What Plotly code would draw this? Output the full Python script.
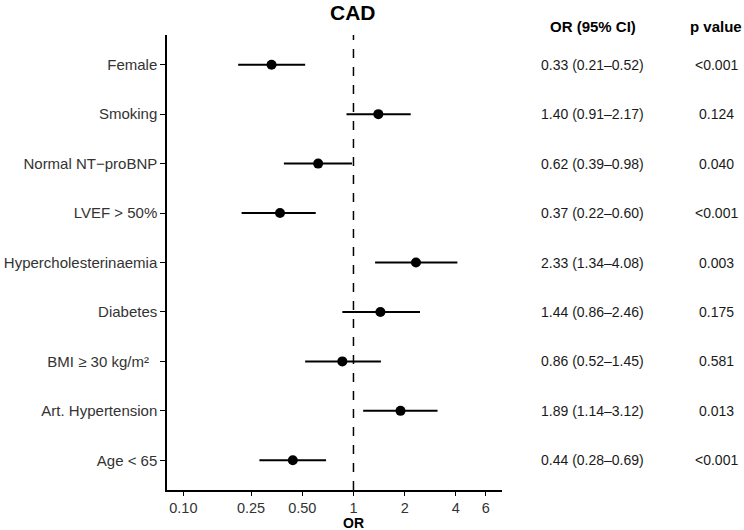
import plotly.graph_objects as go

labels = ["Female", "Smoking", "Normal NT\u2212proBNP", "LVEF > 50%", "Hypercholesterinaemia",
          "Diabetes", "BMI \u2265 30 kg/m\u00b2  ", "Art. Hypertension", "Age < 65"]
or_vals = [0.33, 1.40, 0.62, 0.37, 2.33, 1.44, 0.86, 1.89, 0.44]
ci_low = [0.21, 0.91, 0.39, 0.22, 1.34, 0.86, 0.52, 1.14, 0.28]
ci_high = [0.52, 2.17, 0.98, 0.60, 4.08, 2.46, 1.45, 3.12, 0.69]
p_text = ["<0.001", "0.124", "0.040", "<0.001", "0.003", "0.175", "0.581", "0.013", "<0.001"]
x_ticks = [0.10, 0.25, 0.50, 1, 2, 4, 6]
x_tick_text = ["0.10", "0.25", "0.50", "1", "2", "4", "6"]

FONT = "Liberation Sans, Arial, Helvetica, sans-serif"
W, H = 744, 530
ML, MR, MT, MB = 167, 242, 35, 40
PW = W - ML - MR
PH = H - MT - MB

def px_x(px):
    return (px - ML) / PW

def px_y(py):
    return (H - MB - py) / PH

fig = go.Figure()

# reference line at OR = 1
fig.add_trace(go.Scatter(
    x=[1, 1], y=[-0.6, len(labels) - 0.4], mode="lines",
    line=dict(color="black", width=1.5, dash="dash"),
    yaxis="y2", hoverinfo="skip", showlegend=False))

fig.add_trace(go.Scatter(
    x=or_vals, y=labels, mode="markers",
    marker=dict(color="black", size=10),
    error_x=dict(type="data", symmetric=False,
                 array=[h - o for h, o in zip(ci_high, or_vals)],
                 arrayminus=[o - l for o, l in zip(or_vals, ci_low)],
                 color="black", thickness=2, width=0),
    showlegend=False))

annotations = []
for lab, o, lo, hi, p in zip(labels, or_vals, ci_low, ci_high, p_text):
    annotations.append(dict(
        x=px_x(592.5), xref="paper", y=lab, yref="y",
        text=f"{o:.2f} ({lo:.2f}\u2013{hi:.2f})", showarrow=False,
        xanchor="center", yanchor="middle",
        font=dict(family=FONT, size=14, color="#1a1a1a")))
    annotations.append(dict(
        x=px_x(716), xref="paper", y=lab, yref="y",
        text=p, showarrow=False, xanchor="center", yanchor="middle",
        font=dict(family=FONT, size=14, color="#1a1a1a")))

annotations += [
    dict(x=px_x(592.5), xref="paper", y=px_y(26), yref="paper", text="<b>OR (95% CI)</b>",
         showarrow=False, xanchor="center", yanchor="middle",
         font=dict(family=FONT, size=15, color="black")),
    dict(x=px_x(716), xref="paper", y=px_y(26), yref="paper", text="<b>p value</b>",
         showarrow=False, xanchor="center", yanchor="middle",
         font=dict(family=FONT, size=15, color="black")),
    dict(x=0, xref="x", y=px_y(13), yref="paper", text="<b>CAD</b>",
         showarrow=False, xanchor="center", yanchor="middle",
         font=dict(family=FONT, size=21, color="black")),
    dict(x=0, xref="x", y=px_y(523), yref="paper", text="<b>OR</b>",
         showarrow=False, xanchor="center", yanchor="middle",
         font=dict(family=FONT, size=14, color="black")),
]

fig.update_layout(
    width=W, height=H,
    margin=dict(l=ML, r=MR, t=MT, b=MB, autoexpand=False),
    paper_bgcolor="white", plot_bgcolor="white",
    annotations=annotations,
    xaxis=dict(type="log", range=[-1.096, 0.873],
               tickvals=x_ticks, ticktext=x_tick_text,
               showgrid=False, zeroline=False, automargin=False,
               showline=True, linecolor="black", linewidth=1.5,
               ticks="outside", ticklen=4, tickwidth=1.2, tickcolor="black",
               tickfont=dict(family=FONT, size=14.5, color="#333333")),
    yaxis=dict(type="category", categoryorder="array",
               categoryarray=labels[::-1],
               range=[-0.6, len(labels) - 0.4],
               showgrid=False, zeroline=False, automargin=False,
               showline=True, linecolor="black", linewidth=1.5,
               ticks="outside", ticklen=5, tickwidth=1.2, tickcolor="black",
               tickfont=dict(family=FONT, size=15, color="#333333")),
    yaxis2=dict(overlaying="y", range=[-0.6, len(labels) - 0.4],
                visible=False, showgrid=False),
)

fig.write_html("out.html")
